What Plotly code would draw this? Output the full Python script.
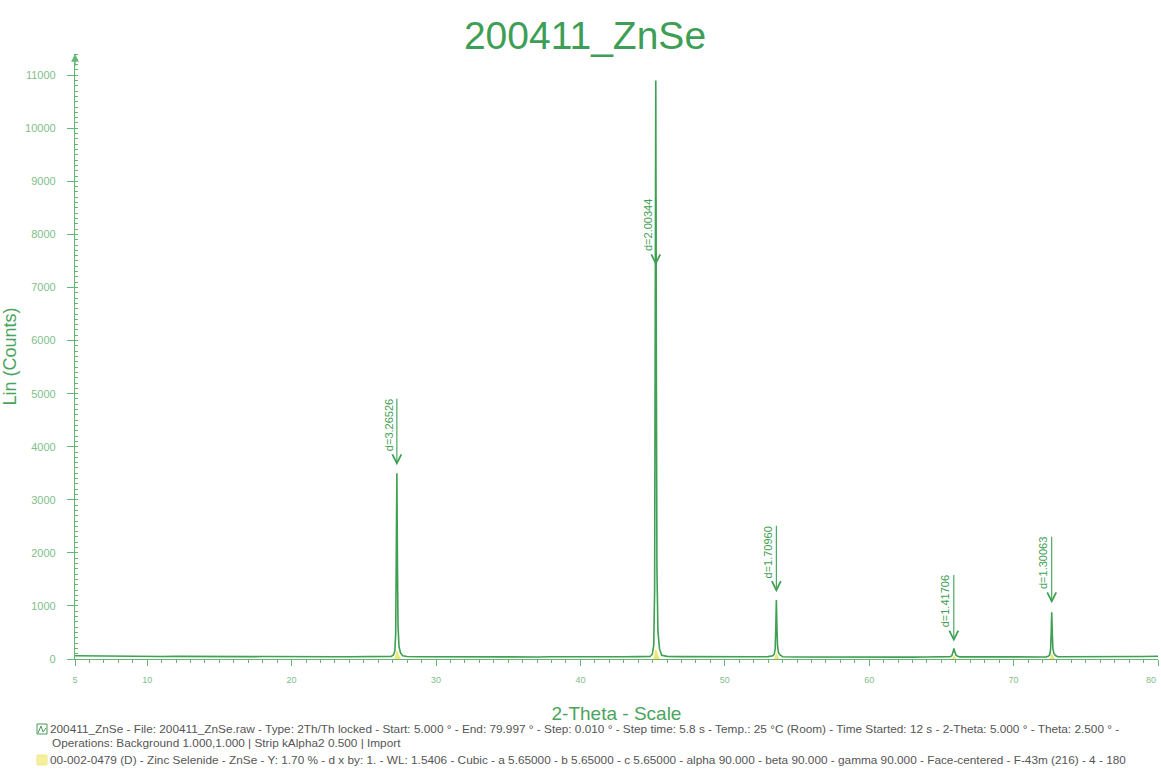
import plotly.graph_objects as go

# ---- scan data: 2-Theta (deg) vs Lin (Counts) ----
baseline_2theta = [5, 6, 7, 8, 9, 10, 11, 12, 13, 14, 15, 16, 17, 18, 19, 20,
                   21, 22, 23, 24, 25, 26, 28, 29, 30, 31, 32, 33, 34, 35, 36,
                   37, 38, 39, 40, 41, 42, 43, 44, 46, 47, 48, 49, 50, 51, 52,
                   53, 54, 55, 56, 57, 58, 59, 60, 61, 62, 63, 64, 65, 67, 68,
                   69, 70, 71, 72, 74, 75, 76, 77, 78, 79, 80]
baseline_counts = [62, 58, 55, 52, 50, 54, 48, 50, 46, 49, 45, 47, 44, 46, 43, 45,
                   42, 44, 41, 43, 44, 47, 46, 43, 41, 44, 40, 42, 39, 41, 40,
                   38, 41, 39, 42, 40, 43, 41, 45, 50, 44, 41, 39, 40, 38, 41,
                   44, 43, 39, 37, 39, 36, 38, 37, 35, 38, 36, 37, 39, 40, 37,
                   36, 38, 35, 39, 42, 37, 36, 38, 40, 47, 52]

peak1_2theta = [26.90, 27.05, 27.15, 27.21, 27.25, 27.29, 27.33, 27.37, 27.44, 27.55, 27.70]
peak1_counts = [50, 75, 150, 480, 1650, 3500, 1800, 620, 230, 110, 60]
peak2_2theta = [44.83, 44.98, 45.08, 45.14, 45.18, 45.22, 45.26, 45.30, 45.37, 45.48, 45.63]
peak2_counts = [48, 90, 260, 1300, 5200, 10900, 5600, 1700, 520, 190, 70]
peak3_2theta = [53.18, 53.33, 53.43, 53.49, 53.53, 53.57, 53.61, 53.65, 53.72, 53.83, 53.98]
peak3_counts = [45, 60, 95, 200, 560, 1110, 600, 250, 120, 75, 48]
peak4_2theta = [65.47, 65.62, 65.72, 65.78, 65.82, 65.86, 65.90, 65.94, 66.01, 66.12, 66.27]
peak4_counts = [38, 45, 60, 90, 140, 200, 150, 100, 70, 52, 40]
peak5_2theta = [72.25, 72.40, 72.50, 72.56, 72.60, 72.64, 72.68, 72.72, 72.79, 72.90, 73.05]
peak5_counts = [40, 52, 80, 170, 450, 880, 480, 200, 105, 65, 42]

# stripped K-alpha2 area at the foot of each reflection
strip_2theta = [27.12, 27.29, 27.55, None, 45.05, 45.22, 45.50, None,
                53.42, 53.57, 53.78, None, 65.74, 65.86, 66.05, None,
                72.50, 72.64, 72.86]
strip_counts = [0, 170, 0, None, 0, 200, 0, None,
                0, 120, 0, None, 0, 70, 0, None,
                0, 110, 0]

# d-spacing labels with the 2-Theta they mark and where their arrows point
d_labels = ["d=3.26526", "d=2.00344", "d=1.70960", "d=1.41706", "d=1.30063"]
d_2theta = [27.29, 45.22, 53.57, 65.86, 72.64]
d_arrow_counts = [3650, 7420, 1260, 330, 1050]

x_ticks = [5, 10, 20, 30, 40, 50, 60, 70, 80]
x_ticktext = ["5", "10", "20", "30", "40", "50", "60", "70", ""]
x_end_label = "80"
y_ticks = [0, 1000, 2000, 3000, 4000, 5000, 6000, 7000, 8000, 9000, 10000, 11000]

footer_lines = [
    "200411_ZnSe - File: 200411_ZnSe.raw - Type: 2Th/Th locked - Start: 5.000 \u00b0 - End: 79.997 \u00b0 - "
    "Step: 0.010 \u00b0 - Step time: 5.8 s - Temp.: 25 \u00b0C (Room) - Time Started: 12 s - "
    "2-Theta: 5.000 \u00b0 - Theta: 2.500 \u00b0 -",
    "Operations: Background 1.000,1.000 | Strip kAlpha2 0.500 | Import",
    "00-002-0479 (D) - Zinc Selenide - ZnSe - Y: 1.70 % - d x by: 1. - WL: 1.5406 - Cubic - "
    "a 5.65000 - b 5.65000 - c 5.65000 - alpha 90.000 - beta 90.000 - gamma 90.000 - "
    "Face-centered - F-43m (216) - 4 - 180",
]

# ---- assemble the continuous scan ----
pts = list(zip(baseline_2theta, baseline_counts))
for xs, ys in [(peak1_2theta, peak1_counts), (peak2_2theta, peak2_counts),
               (peak3_2theta, peak3_counts), (peak4_2theta, peak4_counts),
               (peak5_2theta, peak5_counts)]:
    pts += list(zip(xs, ys))
pts.sort()
scan_x = [p[0] for p in pts]
scan_y = [p[1] for p in pts]

GREEN = "#3f9f52"
AXIS = "#62b872"
TICK = "#7fbe8b"
FONT = "Liberation Sans, Arial, sans-serif"

W, H = 1161, 776
L, R, T, B = 75, 3, 54, 117
PW, PH = W - L - R, H - T - B


def px(xp):
    return (xp - L) / PW


def py(yp):
    return (H - B - yp) / PH


fig = go.Figure()
fig.add_trace(go.Scatter(x=strip_2theta, y=strip_counts, mode="lines", fill="toself",
                         fillcolor="rgba(236,226,90,0.85)", line=dict(width=0),
                         hoverinfo="skip", showlegend=False))
fig.add_trace(go.Scatter(x=scan_x, y=scan_y, mode="lines",
                         line=dict(color=GREEN, width=1.6), showlegend=False))

annotations = []
for lab, xv, yv in zip(d_labels, d_2theta, d_arrow_counts):
    annotations.append(dict(x=xv, y=yv, xref="x", yref="y", text="", showarrow=True,
                            axref="pixel", ayref="pixel", ax=0, ay=-68,
                            arrowhead=5, arrowsize=1.6, arrowwidth=1.1, arrowcolor=GREEN))
    annotations.append(dict(x=xv, y=yv, xref="x", yref="y", text=lab, showarrow=False,
                            textangle=-90, xshift=-8, yshift=68, yanchor="top",
                            font=dict(family=FONT, size=11, color=GREEN)))

# arrow tip on the top of the intensity axis
annotations.append(dict(x=5, y=11400, xref="x", yref="y", text="", showarrow=True,
                        axref="pixel", ayref="pixel", ax=0, ay=14,
                        arrowhead=2, arrowsize=1.3, arrowwidth=1.2, arrowcolor=AXIS))

# end label of the 2-Theta axis, kept inside the right border
annotations.append(dict(x=80, y=0, xref="x", yref="y", text=x_end_label, showarrow=False,
                        xanchor="right", yanchor="top", yshift=-14,
                        font=dict(family=FONT, size=9, color=TICK)))

for i, line in enumerate(footer_lines):
    xp = 48 if i != 1 else 50
    yp = [729, 743, 760][i]
    annotations.append(dict(x=px(xp), y=py(yp), xref="paper", yref="paper", text=line,
                            showarrow=False, xanchor="left", yanchor="middle",
                            font=dict(family=FONT, size=11.8, color="#555555")))

shapes = [
    dict(type="rect", xref="paper", yref="paper", x0=px(37), x1=px(47), y0=py(734), y1=py(724),
         line=dict(color="#4a9a5a", width=1), fillcolor="rgba(0,0,0,0)"),
    dict(type="path", xref="paper", yref="paper",
         path=f"M {px(38)},{py(733)} L {px(41)},{py(726)} L {px(43)},{py(732)} L {px(46)},{py(728)}",
         line=dict(color="#4a9a5a", width=1)),
    dict(type="rect", xref="paper", yref="paper", x0=px(37), x1=px(47), y0=py(765), y1=py(755),
         line=dict(color="#f3e98a", width=1), fillcolor="#f6ee9a"),
]

fig.update_layout(
    width=W, height=H,
    margin=dict(l=L, r=R, t=T, b=B),
    paper_bgcolor="white", plot_bgcolor="white",
    title=dict(text="200411_ZnSe", x=585 / W, xref="container", y=1 - 35 / H, yanchor="middle",
               font=dict(family=FONT, size=39, color="#3e9e55")),
    xaxis=dict(range=[5, 80], tickvals=x_ticks, ticktext=x_ticktext, ticks="outside",
               ticklen=6, tickwidth=1,
               tickcolor=AXIS, showline=True, linecolor=AXIS, linewidth=1.2,
               showgrid=False, zeroline=False, ticklabelstandoff=6,
               tickfont=dict(family=FONT, size=9, color=TICK),
               minor=dict(dtick=1, ticks="outside", ticklen=3, tickcolor=AXIS),
               title=dict(text="2-Theta - Scale", standoff=22,
                          font=dict(family=FONT, size=19, color="#4aa45e"))),
    yaxis=dict(range=[0, 11400], tickvals=y_ticks, tickformat="d", ticks="outside",
               ticklen=7, tickwidth=1,
               tickcolor=AXIS, showline=True, linecolor=AXIS, linewidth=1.2,
               showgrid=False, zeroline=False, ticklabelstandoff=9,
               tickfont=dict(family=FONT, size=11, color=TICK),
               minor=dict(dtick=100, ticks="inside", ticklen=3, tickcolor=AXIS),
               title=dict(text="Lin (Counts)", standoff=4,
                          font=dict(family=FONT, size=18, color="#4aa45e"))),
    annotations=annotations,
    shapes=shapes,
)

fig.write_html("out.html")
